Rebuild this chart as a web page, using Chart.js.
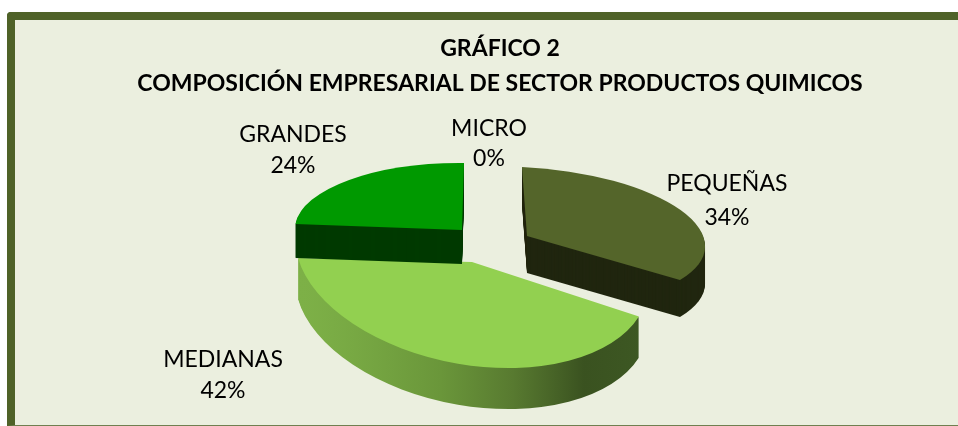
<!DOCTYPE html>
<html lang="es"><head><meta charset="utf-8">
<style>
html,body{margin:0;padding:0;background:#fff;overflow:hidden;width:958px;height:426px}
#frame{position:absolute;left:7px;top:12px;width:951px;height:405px;background:#EBEFDF;border-left:8px solid #4F6228;border-top:8px solid #4F6228;border-bottom:1px solid #6f7f50;border-top-left-radius:4px;box-sizing:content-box;border-right:0}
#c{position:absolute;left:42px;top:0}
</style></head><body>
<div id="frame"></div>
<canvas id="c" width="916" height="426"></canvas>
<script src="https://cdn.jsdelivr.net/npm/chart.js@4"></script>
<script>
const titleLines = ["GRÁFICO 2", "COMPOSICIÓN EMPRESARIAL DE SECTOR PRODUCTOS QUIMICOS"];
const categories = ["MICRO", "PEQUEÑAS", "MEDIANAS", "GRANDES"];
const shares = [0, 34, 42, 24];
const topColors = ["#7f7f7f", "#54652A", "#92D050", "#009900"];
const sideColors = ["#555555", "#20260F", null, "#003A00"];
const sliceViews = [
  null,
  {x:527-42, y:236, a:178, b:5,  c:8.3, d:69, depth:37},
  {x:472-42, y:262, a:171.7, b:41, c:-2.7, d:106, depth:41},
  {x:462-42, y:230, a:167, b:-2, c:1.8, d:67, depth:34}
];
const drawOrder = [2, 3, 1];
const labelSpots = [[489-42,129,159],[727-42,184,218],[223-42,360,391],[293-42,135,166]];

const solid3d = {
  id:'solid3d',
  beforeDatasetsDraw(chart){
    const ctx = chart.ctx, arcs = chart.getDatasetMeta(0).data;
    for (const i of drawOrder){
      const arc = arcs[i], v = sliceViews[i], R = arc.outerRadius, base = arc.options;
      const place = (dy)=>{
        ctx.translate(v.x, v.y + dy);
        ctx.transform(v.a/R, v.c/R, v.b/R, v.d/R, 0, 0);
        ctx.translate(-arc.x, -arc.y);
      };
      let side = sideColors[i];
      if (!side){
        side = ctx.createLinearGradient(arc.x-R,0,arc.x+R,0);
        side.addColorStop(0,'#7DB047');
        side.addColorStop(0.3,'#6A963A');
        side.addColorStop(0.5,'#587A30');
        side.addColorStop(0.72,'#3A5220');
        side.addColorStop(1,'#3E5A24');
      }
      for (let t=v.depth; t>=1; t--){
        ctx.save(); place(t);
        arc.options = Object.assign({}, base, {backgroundColor:side, borderWidth:0});
        arc.draw(ctx);
        ctx.restore();
      }
      ctx.save(); place(0);
      arc.options = Object.assign({}, base, {borderWidth:0});
      arc.draw(ctx);
      ctx.restore();
      arc.options = base;
    }
    return false;
  },
  afterDraw(chart){
    const ctx = chart.ctx, total = shares.reduce((p,q)=>p+q,0);
    ctx.save();
    ctx.fillStyle='#000'; ctx.textAlign='center'; ctx.textBaseline='middle';
    ctx.font='23px Lato';
    categories.forEach((name,i)=>{
      const s = labelSpots[i];
      ctx.fillText(name, s[0], s[1]);
      ctx.fillText(Math.round(shares[i]/total*100)+'%', s[0], s[2]);
    });
    ctx.restore();
  }
};

new Chart(document.getElementById('c'),{
  type:'pie',
  data:{labels:categories,datasets:[{data:shares,backgroundColor:topColors,borderWidth:0}]},
  plugins:[solid3d],
  options:{
    responsive:false,animation:false,
    layout:{padding:0},
    plugins:{
      legend:{display:false},
      tooltip:{enabled:false},
      title:{display:true,text:titleLines,color:'#000',
        font:{family:'Lato',size:23,weight:'bold',lineHeight:1.52},
        padding:{top:31,bottom:10}}
    }
  }
});
</script>
</body></html>
